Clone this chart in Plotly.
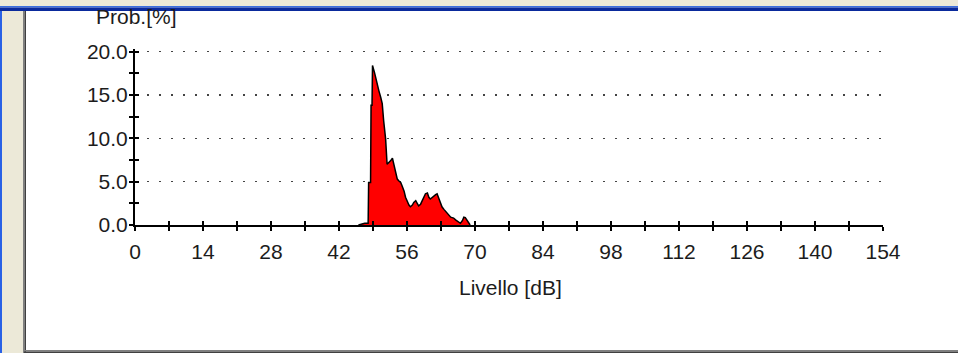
import plotly.graph_objects as go

# ---- data ----
levels = [46.0, 47.3, 48.0, 48.1, 48.5, 48.6, 48.8, 48.9, 49.0, 49.3, 49.6, 49.9, 50.2, 50.6,
          50.9, 51.2, 51.6, 51.9, 52.3, 52.6, 53.0, 53.3, 53.6, 54.0, 54.3, 54.7, 55.0, 55.4,
          55.7, 56.0, 56.4, 56.7, 57.1, 57.4, 57.8, 58.1, 58.4, 58.8, 59.1, 59.5, 59.8, 60.2,
          60.5, 60.8, 61.2, 61.5, 61.9, 62.2, 62.6, 62.9, 63.2, 63.6, 63.9, 64.3, 64.6, 65.0,
          65.3, 65.6, 66.0, 66.3, 66.7, 67.0, 67.4, 67.7, 68.0, 68.4, 68.7, 69.0]
probs = [0.0, 0.2, 0.2, 4.9, 4.9, 13.8, 13.8, 18.4, 18.2, 17.6, 16.8, 15.9, 15.5, 14.7,
         14.0, 12.0, 9.9, 7.0, 7.2, 7.4, 7.7, 7.0, 6.0, 5.3, 5.1, 4.9, 4.5, 3.9,
         3.2, 2.8, 2.3, 2.1, 2.3, 2.6, 2.8, 2.5, 2.2, 2.4, 2.8, 3.2, 3.6, 3.7,
         3.2, 3.0, 3.2, 3.4, 3.5, 3.6, 3.0, 2.5, 2.1, 1.8, 1.6, 1.3, 1.1, 0.9,
         0.85, 0.8, 0.6, 0.5, 0.3, 0.2, 0.5, 0.9, 0.85, 0.5, 0.15, 0.0]

x_tickvals = [0, 14, 28, 42, 56, 70, 84, 98, 112, 126, 140, 154]
x_ticktext = ["0", "14", "28", "42", "56", "70", "84", "98", "112", "126", "140", "154"]
y_tickvals = [0, 5, 10, 15, 20]
y_ticktext = ["0.0", "5.0", "10.0", "15.0", "20.0"]

x_title = "Livello [dB]"
y_title = "Prob.[%]"

# ---- geometry ----
W, H = 958, 353
ML, MR, MT, MB = 135, 75, 49, 128
PW, PH = W - ML - MR, H - MT - MB
Y_RANGE = [0, 20.3]


def px(x):
    return (x - ML) / PW


def py(y):
    return (H - MB - y) / PH


FONT = "Liberation Sans, Arial, sans-serif"
TXT = "#1c1c1c"

fig = go.Figure()
fig.add_trace(go.Scatter(
    x=levels, y=probs, mode="lines", fill="tozeroy",
    fillcolor="#ff0000", line=dict(color="#000000", width=1.5),
    hoverinfo="skip", showlegend=False))
# invisible helper trace for the overlay axes (crossing ticks)
fig.add_trace(go.Scatter(x=levels, y=probs, mode="none", xaxis="x2", yaxis="y2",
                         hoverinfo="skip", showlegend=False))

fig.update_layout(
    width=W, height=H,
    margin=dict(l=ML, r=MR, t=MT, b=MB, pad=0),
    paper_bgcolor="#ffffff", plot_bgcolor="#ffffff",
    font=dict(family=FONT, size=21, color=TXT),
    xaxis=dict(range=[0, 154], tickvals=x_tickvals, ticktext=x_ticktext,
               ticks="outside", ticklen=4, tickwidth=2, tickcolor="#000",
               minor=dict(dtick=7, tick0=0, ticks="outside", ticklen=4, tickwidth=2,
                          tickcolor="#000", showgrid=False),
               showline=True, linecolor="#000", linewidth=2,
               showgrid=False, zeroline=False, fixedrange=True,
               ticklabelstandoff=3,
               tickfont=dict(family=FONT, size=21, color=TXT)),
    yaxis=dict(range=Y_RANGE, tickvals=y_tickvals, ticktext=y_ticktext,
               ticks="outside", ticklen=4, tickwidth=2, tickcolor="#000",
               minor=dict(dtick=2.5, tick0=0, ticks="outside", ticklen=4, tickwidth=2,
                          tickcolor="#000", showgrid=False),
               showline=True, linecolor="#000", linewidth=2,
               showgrid=True, gridcolor="#444444", gridwidth=1.5, griddash="2px,10px",
               zeroline=False, fixedrange=True,
               ticklabelstandoff=-3,
               tickfont=dict(family=FONT, size=21, color=TXT)),
    xaxis2=dict(range=[0, 154], overlaying="x", tickvals=x_tickvals, ticktext=[""] * len(x_tickvals),
                ticks="inside", ticklen=4, tickwidth=2, tickcolor="#000",
                minor=dict(dtick=7, tick0=0, ticks="inside", ticklen=4, tickwidth=2,
                           tickcolor="#000", showgrid=False),
                showline=False, showgrid=False, zeroline=False, showticklabels=False,
                fixedrange=True),
    yaxis2=dict(range=Y_RANGE, overlaying="y", tickvals=y_tickvals, ticktext=[""] * len(y_tickvals),
                ticks="inside", ticklen=4, tickwidth=2, tickcolor="#000",
                minor=dict(dtick=2.5, tick0=0, ticks="inside", ticklen=4, tickwidth=2,
                           tickcolor="#000", showgrid=False),
                showline=False, showgrid=False, zeroline=False, showticklabels=False,
                fixedrange=True),
)

# titles as annotations
fig.add_annotation(text=x_title, xref="paper", yref="paper", x=px(510), y=py(287),
                   xanchor="center", yanchor="middle", showarrow=False,
                   font=dict(family=FONT, size=21, color=TXT))
fig.add_annotation(text=y_title, xref="paper", yref="paper", x=px(136), y=py(16),
                   xanchor="center", yanchor="middle", showarrow=False,
                   font=dict(family=FONT, size=21, color=TXT))

# window chrome
def rect(x0, y0, x1, y1, color):
    fig.add_shape(type="rect", xref="paper", yref="paper",
                  x0=px(x0), x1=px(x1), y0=py(y1), y1=py(y0),
                  fillcolor=color, line=dict(width=0), layer="above")

rect(0, 0, W, 6, "#ece9d8")
rect(0, 6, W, 7.5, "#3a6fe0")
rect(0, 7.5, W, 11, "#0a2a9c")
rect(0, 11, 2, H, "#2a62e6")
rect(2, 11, 23, H, "#ece9d8")
rect(23, 11, 24.5, H, "#808080")
rect(24.5, 11, 26, H, "#404040")
rect(24, 350, W, 351.5, "#808080")
rect(24, 351.5, W, H, "#404040")

fig.write_html("out.html", config={"staticPlot": True},
               post_script="document.body.style.margin='0';document.body.style.overflow='hidden';")
